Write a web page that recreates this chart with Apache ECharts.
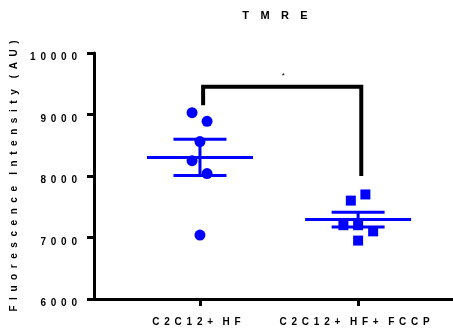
<!DOCTYPE html>
<html>
<head>
<meta charset="utf-8">
<script src="https://cdn.jsdelivr.net/npm/echarts@6/dist/echarts.min.js"></script>
<style>html,body{margin:0;padding:0;background:#fff}#c{width:453px;height:333px}</style>
</head>
<body>
<div id="c"></div>
<script>
// ---- data ----
const categories = ['C2C12+ HF', 'C2C12+ HF+ FCCP'];
const groupPos = [1, 2];
const hfValues = [9030, 8890, 8560, 8250, 8040, 7040];
const hfJitter = [-0.05, 0.045, 0, -0.05, 0.045, 0];
const fccpValues = [7600, 7700, 7200, 7200, 7100, 6950];
const fccpJitter = [-0.046, 0.046, -0.093, 0, 0.095, 0];
const yTicks = [6000, 7000, 8000, 9000, 10000];
const titleText = 'TMRE';
const yName = 'Fluorescence Intensity (AU)';
const bracketX = [1.02, 2.02];
const bracketTop = 9450;
const bracketEnds = [9150, 8000];
const sigLabel = '*';

// ---- helpers ----
function spaced(s, gap, wordGap) {
  return s.split(' ').map(w => w.split('').join(gap)).join(wordGap);
}
function mean(a) { return a.reduce((s, v) => s + v, 0) / a.length; }
function sem(a) {
  const m = mean(a);
  const v = a.reduce((s, x) => s + (x - m) * (x - m), 0) / (a.length - 1);
  return Math.sqrt(v) / Math.sqrt(a.length);
}
const BLUE = '#0000ff';
const FONT = '"Liberation Sans", Arial, sans-serif';
const G = ' \u2009';

const stats = [
  [groupPos[0], mean(hfValues), sem(hfValues)],
  [groupPos[1], mean(fccpValues), sem(fccpValues)]
];

const chart = echarts.init(document.getElementById('c'), null, { renderer: 'canvas' });
chart.setOption({
  animation: false,
  backgroundColor: '#fff',
  title: {
    text: spaced(titleText, '   \u2009', '    '),
    left: 275, top: 10, textAlign: 'center', padding: 0,
    textStyle: { fontFamily: FONT, fontWeight: 'bold', fontSize: 11, color: '#000' }
  },
  grid: { left: 94, right: 0, top: 53, bottom: 34, containLabel: false },
  xAxis: {
    type: 'value', min: 0.33, max: 2.6,
    splitLine: { show: false },
    axisLine: { lineStyle: { color: '#000', width: 3 } },
    axisTick: { show: true, length: 7, lineStyle: { width: 3, color: '#000' }, customValues: groupPos },
    axisLabel: {
      customValues: groupPos, margin: 18, padding: [0, 7, 0, 0],
      fontFamily: FONT, fontWeight: 'bold', fontSize: 10, color: '#000',
      formatter: v => {
        const i = groupPos.indexOf(Math.round(v));
        return i >= 0 ? spaced(categories[i], G, G + G) : '';
      }
    }
  },
  yAxis: {
    type: 'value', min: 6000, max: 10000, interval: 1000,
    splitLine: { show: false },
    axisLine: { show: true, lineStyle: { color: '#000', width: 3 } },
    axisTick: { show: true, length: 7, lineStyle: { width: 3, color: '#000' } },
    axisLabel: {
      margin: 17, verticalAlign: 'top', lineHeight: 9,
      fontFamily: FONT, fontWeight: 'bold', fontSize: 10, color: '#000',
      formatter: v => spaced(String(v), G, G)
    },
    name: spaced(yName, '  ', '    '),
    nameLocation: 'middle', nameRotate: 90, nameGap: 66,
    nameTextStyle: { fontFamily: FONT, fontWeight: 'bold', fontSize: 10, color: '#000' }
  },
  series: [
    {
      type: 'custom',
      data: stats,
      z: 2,
      renderItem: (params, api) => {
        const x = api.value(0), m = api.value(1), e = api.value(2);
        const c = api.coord([x, m]);
        const t = api.coord([x, m + e]);
        const b = api.coord([x, m - e]);
        const st = { stroke: BLUE, lineWidth: 3 };
        return {
          type: 'group',
          children: [
            { type: 'line', shape: { x1: c[0] - 53, y1: c[1], x2: c[0] + 53, y2: c[1] }, style: st },
            { type: 'line', shape: { x1: t[0], y1: t[1], x2: b[0], y2: b[1] }, style: st },
            { type: 'line', shape: { x1: t[0] - 26.5, y1: t[1], x2: t[0] + 26.5, y2: t[1] }, style: st },
            { type: 'line', shape: { x1: b[0] - 26.5, y1: b[1], x2: b[0] + 26.5, y2: b[1] }, style: st }
          ]
        };
      }
    },
    {
      type: 'scatter', symbol: 'circle', symbolSize: 11, z: 3,
      itemStyle: { color: BLUE, opacity: 1 },
      data: hfValues.map((v, i) => [groupPos[0] + hfJitter[i], v])
    },
    {
      type: 'scatter', symbol: 'rect', symbolSize: 10, z: 3,
      itemStyle: { color: BLUE, opacity: 1 },
      data: fccpValues.map((v, i) => [groupPos[1] + fccpJitter[i], v])
    },
    {
      type: 'custom',
      data: [[bracketX[0], bracketEnds[0], bracketX[1], bracketEnds[1], bracketTop]],
      z: 4,
      renderItem: (params, api) => {
        const p1 = api.coord([api.value(0), api.value(1)]);
        const p2 = api.coord([api.value(0), api.value(4)]);
        const p3 = api.coord([api.value(2), api.value(4)]);
        const p4 = api.coord([api.value(2), api.value(3)]);
        const mid = api.coord([(api.value(0) + api.value(2)) / 2, api.value(4)]);
        return {
          type: 'group',
          children: [
            { type: 'polyline', shape: { points: [p1, p2, p3, p4] },
              style: { stroke: '#000', lineWidth: 4, fill: null, lineJoin: 'miter' } },
            { type: 'text', x: mid[0] + 1, y: mid[1] - 11,
              style: { text: sigLabel, fontSize: 8, fontFamily: FONT, fill: '#000', align: 'center', verticalAlign: 'middle' } }
          ]
        };
      }
    }
  ]
});
</script>
</body>
</html>
